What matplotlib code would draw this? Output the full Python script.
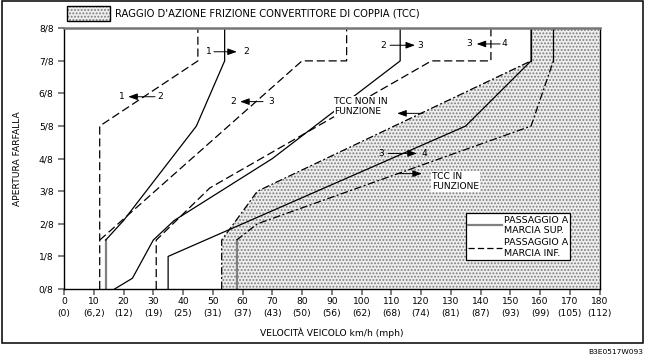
import matplotlib
matplotlib.use("Agg")
import matplotlib.pyplot as plt
from matplotlib.patches import Patch, Rectangle
from matplotlib.lines import Line2D
from matplotlib.legend_handler import HandlerTuple

plt.rcParams['font.family'] = ['DejaVu Sans']
plt.rcParams['hatch.linewidth'] = 0.9

# speed ticks (km/h) and the mph equivalents
kmh = list(range(0, 181, 10))
mph = ["0", "6,2", "12", "19", "25", "31", "37", "43", "50", "56",
       "62", "68", "74", "81", "87", "93", "99", "105", "112"]
throttle = [f"{i}/8" for i in range(9)]

# shift lines: x = km/h, y = throttle in eighths
up12_x = [14, 14, 20, 44.5, 54, 54]
up12_y = [0, 1.5, 2.1, 5, 7, 8]
dn21_x = [12, 12, 45, 45]
dn21_y = [0, 5, 7, 8]
up23_x = [17, 23, 30, 37, 70, 113, 113]
up23_y = [0, 0.33, 1.5, 2.1, 4, 7, 8]
dn32_x = [12, 80, 95, 95]
dn32_y = [1.5, 7, 7, 8]
up34_x = [35, 35, 135, 157, 157]
up34_y = [0, 1, 5, 7, 8]
dn43_x = [31, 31, 49, 123.5, 143.5, 143.5]
dn43_y = [0, 1.5, 3.1, 7, 7, 8]

# torque converter clutch lines
tcc_off_x = [53, 53, 65, 157, 157]
tcc_off_y = [0, 1.5, 3, 7, 8]
tcc_on_x = [58, 58, 65, 157, 164.5, 164.5]
tcc_on_y = [0, 1.5, 2, 5, 7, 8]

# "a -> b" marks: left txt, x, right txt, x, y, arrow tail x, arrow head x
shift_marks = [
    ("1", 48.7, "2", 61.2, 7.28, 50.4, 58.1),
    ("1", 19.6, "2", 32.3, 5.90, 30.6, 21.6),
    ("2", 56.9, "3", 69.5, 5.75, 66.9, 59.2),
    ("2", 107.3, "3", 119.7, 7.48, 109.6, 118.0),
    ("3", 136.2, "4", 148.2, 7.52, 146.6, 138.7),
    ("3", 106.7, "4", 121.3, 4.16, 109.0, 118.6),
]

DASH = (0, (6.5, 3))
DASHDOT = (0, (6, 2, 1.5, 2))
GREY = '#808080'
DOTS = '#7c7c7c'
SHADE = '#eeeeee'
LW = 0.9
FS = 6.6

fig = plt.figure(figsize=(6.45, 3.63), dpi=100)
ax = fig.add_axes([64 / 645, 1 - 289 / 363, 535.5 / 645, 260.7 / 363])
ax.set_xlim(0, 180)
ax.set_ylim(0, 8)

# shaded TCC range (hatch takes the edge colour, so the edge is drawn with lw 0)
ax.fill(tcc_off_x + [180, 180], tcc_off_y + [8, 0], facecolor=SHADE,
        hatch='.....', edgecolor=DOTS, lw=0, zorder=0.5)

ax.plot(tcc_off_x[:-1], tcc_off_y[:-1], color='k', lw=LW, ls=DASHDOT, zorder=2)
ax.plot(tcc_off_x[-2:], tcc_off_y[-2:], color='k', lw=LW, zorder=2)
ax.plot(tcc_on_x[:2], tcc_on_y[:2], color=GREY, lw=1.6, zorder=2)
ax.plot(tcc_on_x[1:-1], tcc_on_y[1:-1], color='k', lw=LW, ls=DASHDOT, zorder=2)
ax.plot(tcc_on_x[-2:], tcc_on_y[-2:], color='k', lw=LW, zorder=2)

ax.plot(up12_x[:2], up12_y[:2], color=GREY, lw=1.6, zorder=2)
ax.plot(up12_x[1:], up12_y[1:], color='k', lw=LW, zorder=2)
ax.plot(up23_x, up23_y, color='k', lw=LW, zorder=2)
ax.plot(up34_x, up34_y, color='k', lw=LW, zorder=2)
for xs, ys in [(dn21_x, dn21_y), (dn32_x, dn32_y), (dn43_x, dn43_y)]:
    ax.plot(xs, ys, color='k', lw=LW, ls=DASH, zorder=2)

arrow = dict(arrowstyle='-|>,head_length=0.55,head_width=0.2', color='k',
             lw=0.7, shrinkA=0, shrinkB=0)
for ta, xa, tb, xb, y, x0, x1 in shift_marks:
    ax.text(xa, y, ta, fontsize=FS, ha='center', va='center', zorder=4)
    ax.text(xb, y, tb, fontsize=FS, ha='center', va='center', zorder=4)
    ax.annotate('', xy=(x1, y), xytext=(x0, y), arrowprops=arrow, zorder=4)

white = dict(facecolor='white', edgecolor='none', pad=0.6)
ax.text(90.9, 5.6, "TCC NON IN\nFUNZIONE", fontsize=FS, ha='left', va='center',
        linespacing=1.15, bbox=white, zorder=3)
ax.annotate('', xy=(112, 5.39), xytext=(120.5, 5.39), arrowprops=arrow, zorder=4)
ax.text(123.6, 3.3, "TCC IN\nFUNZIONE", fontsize=FS, ha='left', va='center',
        linespacing=1.15, bbox=white, zorder=3)
ax.annotate('', xy=(120.3, 3.54), xytext=(112, 3.54), arrowprops=arrow, zorder=4)

# axes, ticks
ax.set_xticks(kmh)
ax.set_xticklabels([f"{k}\n({m})" for k, m in zip(kmh, mph)], linespacing=1.4)
ax.set_yticks(range(9))
ax.set_yticklabels(throttle)
ax.tick_params(direction='out', length=4.3, width=1.2, color='#6a6a6a',
               labelsize=FS)
ax.tick_params(axis='x', pad=1.4)
ax.tick_params(axis='y', pad=3.2)
for s in ['left', 'right', 'bottom']:
    ax.spines[s].set_linewidth(1.0)
ax.spines['top'].set_color('#777777')
ax.spines['top'].set_linewidth(1.8)
ax.set_xlabel("VELOCITÀ VEICOLO km/h (mph)", fontsize=FS, labelpad=7)
ax.set_ylabel("APERTURA FARFALLA", fontsize=FS, labelpad=12)

leg = ax.legend(handles=[Line2D([], [], color=GREY, lw=1.6),
                         Line2D([], [], color='k', lw=LW, ls=(0, (5, 2.5)))],
                labels=["PASSAGGIO A\nMARCIA SUP.", "PASSAGGIO A\nMARCIA INF."],
                loc='lower left', bbox_to_anchor=(0.7507, 0.111),
                fancybox=False, edgecolor='k', framealpha=1, fontsize=6.8,
                borderpad=0.25, borderaxespad=0, handlelength=3.6,
                handletextpad=0.15, labelspacing=0.35)
leg.get_frame().set_linewidth(0.9)

swatch = (Patch(facecolor=SHADE, hatch='.....', edgecolor=DOTS, lw=0),
          Patch(facecolor='none', edgecolor='k', lw=1.0))
fig.legend(handles=[swatch],
           labels=["RAGGIO D'AZIONE FRIZIONE CONVERTITORE DI COPPIA (TCC)"],
           handler_map={tuple: HandlerTuple(ndivide=1, pad=0)},
           loc='upper left', bbox_to_anchor=(67.3 / 645, 1 - 6.0 / 363),
           frameon=False, fontsize=7.2, handlelength=4.3, handleheight=1.9,
           borderpad=0, borderaxespad=0, handletextpad=0.5)

fig.add_artist(Rectangle((1.5 / 645, 1 - 342.7 / 363), 641.5 / 645, 341.5 / 363,
                         transform=fig.transFigure, fill=False, lw=1.1, ec='k'))
fig.text(643 / 645, 1 - 352 / 363, "B3E0517W093", fontsize=5.4,
         ha='right', va='center')

fig.savefig("out.png", dpi=100)
